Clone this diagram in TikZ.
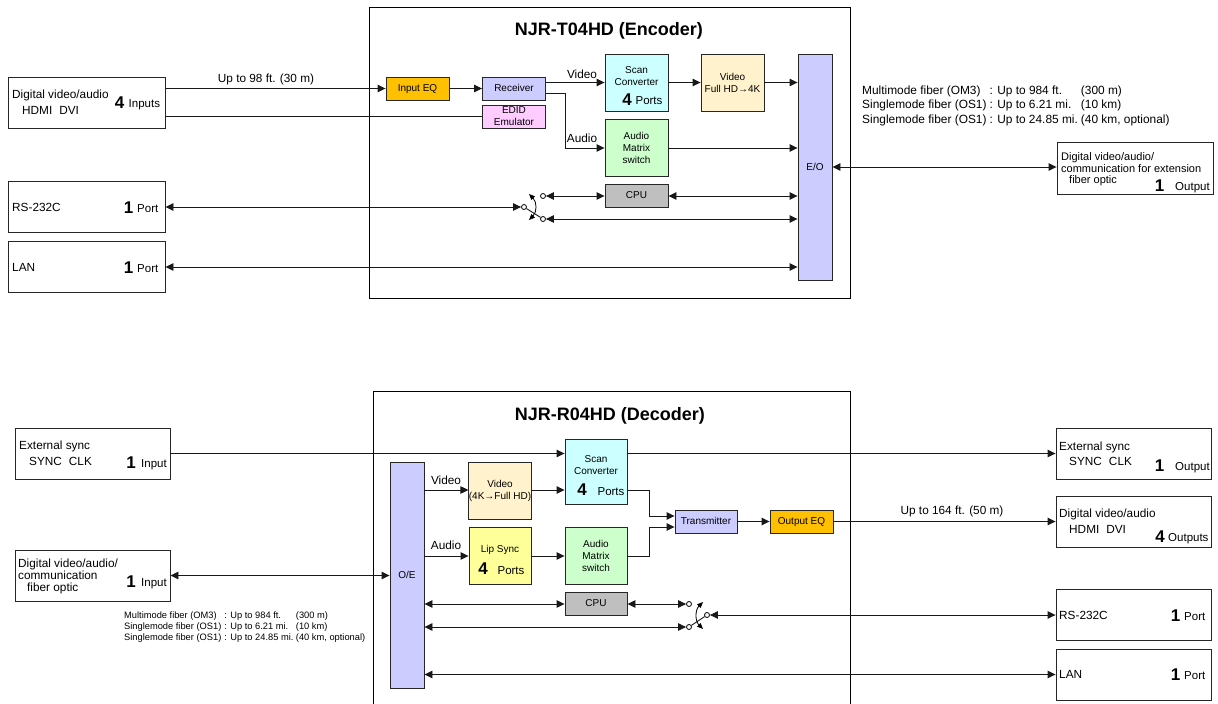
\documentclass[tikz,border=0pt]{standalone}
\usepackage{fontspec}
\setmainfont{Liberation Sans}
\usetikzlibrary{arrows.meta}
\definecolor{eq-orange}{HTML}{FFC000}
\definecolor{io-blue}{HTML}{CCCCFF}
\definecolor{edid-pink}{HTML}{FFCCFF}
\definecolor{scan-cyan}{HTML}{CCFFFF}
\definecolor{video-cream}{HTML}{FFF2CC}
\definecolor{audio-green}{HTML}{CCFFCC}
\definecolor{cpu-gray}{HTML}{BFBFBF}
\definecolor{lip-yellow}{HTML}{FFFF99}
\tikzset{
    unit-box/.style = {draw=black!85, line width=0.9pt, rectangle, inner sep=0pt, align=center, minimum width=63pt, font=\fontsize{10}{12}\selectfont},
    one-line/.style = {text height=7.2pt, text depth=1pt},
    port-box/.style = {draw=black!85, line width=0.9pt, rectangle, inner sep=0pt, minimum width=157pt, minimum height=51pt},
    main-box/.style = {draw=black, line width=0.9pt},
    title-text/.style = {inner sep=0pt, font=\fontsize{18}{20}\bfseries\selectfont},
    port-text/.style = {inner sep=0pt, anchor=mid west, yshift=-1.5pt, font=\fontsize{11.8}{14}\selectfont},
    count-text/.style = {inner sep=0pt, anchor=mid west, yshift=-1.5pt, font=\fontsize{11.5}{14}\selectfont},
    big-digit/.style = {inner sep=0pt, font=\fontsize{17}{18}\bfseries\selectfont},
    contact/.style = {circle, draw=black, fill=white, line width=0.8pt, inner sep=0pt, minimum size=5pt},
    link/.style = {draw=black!90, line width=0.9pt, >={Triangle[length=8pt,width=7.5pt]}},
    throw/.style = {draw=black, line width=0.8pt, >={Triangle[length=6pt,width=5pt]}},
}

\begin{document}
\begin{tikzpicture}[x=1pt, y=-1pt]
\useasboundingbox (0,0) rectangle (1218,704);

% encoder
\node [main-box, minimum width=481pt, minimum height=291pt, inner sep=0pt] (encoder) at (609.5,152.5) {};
\node [title-text] (encoder-title) at (609,31) {NJR-T04HD (Encoder)};
\node [unit-box, one-line, fill=eq-orange, minimum height=23pt] (in-eq) at (417.5,88.5) {Input EQ};
\node [unit-box, one-line, fill=io-blue, minimum height=23pt] (receiver) at (514,88.5) {Receiver};
\node [unit-box, fill=edid-pink, minimum height=23pt] (edid) at (514,116.5) {EDID\\Emulator};
\node [unit-box, fill=scan-cyan, minimum height=57pt] (t-scan) at (636.5,82.5) {};
\node [unit-box, draw=none, fill=none] (t-scan-text) at (636.5,76.5) {Scan\\Converter};
\node [big-digit] (t-scan-digit) at (627,100) {4};
\node [count-text, anchor=mid] (t-scan-ports) at (649,100) {Ports};
\node [unit-box, fill=video-cream, minimum height=57pt] (t-video) at (732.5,82.5) {Video\\Full HD→4K};
\node [unit-box, fill=audio-green, minimum height=57pt] (t-audio) at (636.5,147.5) {Audio\\Matrix\\switch};
\node [unit-box, one-line, fill=cpu-gray, minimum height=23pt] (t-cpu) at (636.5,195.5) {CPU};
\node [unit-box, one-line, fill=io-blue, minimum width=34pt, minimum height=226pt] (eo) at (815,167) {E/O};

\node [port-box] (t-digital) at (86.5,102.5) {};
\node [port-text] (t-digital-a) at (12,94) {Digital video/audio};
\node [port-text] (t-digital-b) at (22,110) {HDMI\hspace{7pt}DVI};
\node [big-digit] (t-digital-n) at (119.5,102.5) {4};
\node [count-text] (t-digital-c) at (128.5,103) {Inputs};
\node [port-box] (t-rs) at (86.5,206.5) {};
\node [port-text] (t-rs-a) at (12,207) {RS-232C};
\node [big-digit] (t-rs-n) at (128.5,207.5) {1};
\node [count-text] (t-rs-c) at (137,208) {Port};
\node [port-box] (t-lan) at (86.5,266.5) {};
\node [port-text] (t-lan-a) at (12,267) {LAN};
\node [big-digit] (t-lan-n) at (128.5,267.5) {1};
\node [count-text] (t-lan-c) at (137,268) {Port};
\node [port-box, minimum width=156pt, minimum height=52pt] (t-fiber) at (1135,168) {};
\node [port-text, font=\fontsize{11}{12}\selectfont] (t-fiber-a) at (1061,156) {Digital video/audio/};
\node [port-text, font=\fontsize{11}{12}\selectfont] (t-fiber-b) at (1061,168) {communication for extension};
\node [port-text, font=\fontsize{11}{12}\selectfont] (t-fiber-c) at (1069,179) {fiber optic};
\node [big-digit] (t-fiber-n) at (1159.5,186) {1};
\node [count-text] (t-fiber-d) at (1175,186) {Output};

\node [inner sep=0pt, anchor=west, font=\fontsize{11.9}{14.5}\selectfont] (t-reach) at (862,106) {\begin{tabular}{@{}l@{\hspace{3pt}}l@{\hspace{3pt}}l@{}}
    Multimode fiber (OM3) & : Up to 984 ft. & (300 m)\\
    Singlemode fiber (OS1) & : Up to 6.21 mi. & (10 km)\\
    Singlemode fiber (OS1) & : Up to 24.85 mi. & (40 km, optional)
\end{tabular}};
\node [port-text, anchor=mid] (t-cable) at (266,78) {Up to 98 ft. (30 m)};
\node [port-text, anchor=mid] (t-video-label) at (582,74) {Video};
\node [port-text, anchor=mid] (t-audio-label) at (582,138) {Audio};

\node [contact] (t-sw-top) at (543,196) {};
\node [contact] (t-sw-bot) at (543,219) {};
\node [contact] (t-sw-com) at (524,207) {};
\coordinate (t-arc-up) at (529,194);
\coordinate (t-arc-dn) at (529,220);
\coordinate (t-video-row) at (0,82.5);
\coordinate (t-audio-row) at (0,148);
\coordinate (t-tap-row) at (0,93);
\coordinate (t-fork) at (565,0);

\draw [link, ->] (t-digital.east |- in-eq) -- (in-eq);
\draw [link, ->] (in-eq) -- (receiver);
\draw [link] (t-digital.east |- edid) -- (edid);
\draw [link, ->] (receiver.east |- t-video-row) -- (t-scan.west |- t-video-row);
\draw [link, ->] (receiver.east |- t-tap-row) -- (t-fork |- t-tap-row) -- (t-fork |- t-audio-row) -- (t-audio.west |- t-audio-row);
\draw [link, ->] (t-scan.east |- t-video-row) -- (t-video.west |- t-video-row);
\draw [link, ->] (t-video.east |- t-video-row) -- (eo.west |- t-video-row);
\draw [link, ->] (t-audio.east |- t-audio-row) -- (eo.west |- t-audio-row);
\draw [link, <->] (t-sw-top) -- (t-cpu.west |- t-sw-top);
\draw [link, <->] (t-cpu.east |- t-sw-top) -- (eo.west |- t-sw-top);
\draw [link, <->] (t-sw-bot) -- (eo.west |- t-sw-bot);
\draw [link, <->] (t-rs.east |- t-sw-com) -- (t-sw-com);
\draw [link] (t-sw-com) -- (t-sw-bot);
\draw [throw, <->] (t-arc-up) .. controls (537,202) and (537,212) .. (t-arc-dn);
\draw [link, <->] (t-lan.east |- 0,267) -- (eo.west |- 0,267);
\draw [link, <->] (eo.east) -- (t-fiber.west |- eo.east);

% decoder
\coordinate (dec-sw) at (373,704);
\coordinate (dec-nw) at (373,391);
\coordinate (dec-ne) at (850,391);
\coordinate (dec-se) at (850,704);
\draw [main-box] (dec-sw) -- (dec-nw) -- (dec-ne) -- (dec-se);
\node [title-text] (decoder-title) at (610,416) {NJR-R04HD (Decoder)};
\node [unit-box, one-line, fill=io-blue, minimum width=34pt, minimum height=226pt] (oe) at (407,575) {O/E};
\node [unit-box, fill=video-cream, minimum width=62pt, minimum height=57pt] (r-video) at (500,490.5) {Video\\(4K→Full HD)};
\node [unit-box, fill=lip-yellow, minimum width=62pt, minimum height=57pt] (r-lip) at (500,555.5) {};
\node [unit-box, draw=none, fill=none] (r-lip-text) at (500,549.5) {Lip Sync};
\node [big-digit] (r-lip-digit) at (483,569) {4};
\node [count-text, anchor=mid] (r-lip-ports) at (511,570) {Ports};
\node [unit-box, fill=scan-cyan, minimum width=62pt, minimum height=65pt] (r-scan) at (596,471.5) {};
\node [unit-box, draw=none, fill=none] (r-scan-text) at (596,465) {Scan\\Converter};
\node [big-digit] (r-scan-digit) at (582,490) {4};
\node [count-text, anchor=mid] (r-scan-ports) at (611,491) {Ports};
\node [unit-box, fill=audio-green, minimum width=62pt, minimum height=57pt] (r-audio) at (596,555.5) {Audio\\Matrix\\switch};
\node [unit-box, one-line, fill=cpu-gray, minimum width=62pt, minimum height=23pt] (r-cpu) at (596,603.5) {CPU};
\node [unit-box, one-line, fill=io-blue, minimum width=62pt, minimum height=23pt] (transmitter) at (706,521.5) {Transmitter};
\node [unit-box, one-line, fill=eq-orange, minimum width=63pt, minimum height=23pt] (out-eq) at (801.5,521.5) {Output EQ};

\node [port-box, minimum width=155pt] (r-sync) at (92.5,453.5) {};
\node [port-text] (r-sync-a) at (19,445) {External sync};
\node [port-text] (r-sync-b) at (29,461) {SYNC\hspace{7pt}CLK};
\node [big-digit] (r-sync-n) at (131,463) {1};
\node [count-text] (r-sync-c) at (141,463.5) {Input};
\node [port-box, minimum width=155pt] (r-fiber) at (92.5,575.5) {};
\node [port-text] (r-fiber-a) at (18,563) {Digital video/audio/};
\node [port-text] (r-fiber-b) at (18,575) {communication};
\node [port-text] (r-fiber-c) at (27,587) {fiber optic};
\node [big-digit] (r-fiber-n) at (131,582) {1};
\node [count-text] (r-fiber-d) at (141,582.5) {Input};
\node [inner sep=0pt, anchor=west, font=\fontsize{9.3}{11}\selectfont] (r-reach) at (124,627) {\begin{tabular}{@{}l@{\hspace{3pt}}l@{\hspace{2.5pt}}l@{}}
    Multimode fiber (OM3) & : Up to 984 ft. & (300 m)\\
    Singlemode fiber (OS1) & : Up to 6.21 mi. & (10 km)\\
    Singlemode fiber (OS1) & : Up to 24.85 mi. & (40 km, optional)
\end{tabular}};

\node [port-box, minimum width=155pt] (r-sync-out) at (1133.5,454) {};
\node [port-text] (r-sync-out-a) at (1059,446) {External sync};
\node [port-text] (r-sync-out-b) at (1069,461) {SYNC\hspace{7pt}CLK};
\node [big-digit] (r-sync-out-n) at (1159.5,466) {1};
\node [count-text] (r-sync-out-c) at (1175,466.5) {Output};
\node [port-box, minimum width=155pt] (r-digital) at (1133.5,521.5) {};
\node [port-text] (r-digital-a) at (1059,513) {Digital video/audio};
\node [port-text] (r-digital-b) at (1069,529) {HDMI\hspace{7pt}DVI};
\node [big-digit] (r-digital-n) at (1160,537) {4};
\node [count-text] (r-digital-c) at (1168,537.5) {Outputs};
\node [port-box, minimum width=155pt] (r-rs) at (1133.5,615) {};
\node [port-text] (r-rs-a) at (1059,615) {RS-232C};
\node [big-digit] (r-rs-n) at (1175.5,616) {1};
\node [count-text] (r-rs-c) at (1184,616.5) {Port};
\node [port-box, minimum width=155pt] (r-lan) at (1133.5,674.5) {};
\node [port-text] (r-lan-a) at (1059,674) {LAN};
\node [big-digit] (r-lan-n) at (1175.5,675) {1};
\node [count-text] (r-lan-c) at (1184,675.5) {Port};

\node [port-text, anchor=mid] (r-cable) at (952,510) {Up to 164 ft. (50 m)};
\node [port-text, anchor=mid] (r-video-label) at (446,480) {Video};
\node [port-text, anchor=mid] (r-audio-label) at (446,545) {Audio};

\node [contact] (r-sw-top) at (689,604) {};
\node [contact] (r-sw-bot) at (689,627) {};
\node [contact] (r-sw-com) at (707,615) {};
\coordinate (r-arc-up) at (703,602);
\coordinate (r-arc-dn) at (703,629);
\coordinate (r-sync-row) at (0,453.5);
\coordinate (r-video-row) at (0,490);
\coordinate (r-audio-row) at (0,556);
\coordinate (r-tx-up) at (0,516);
\coordinate (r-tx-dn) at (0,527);
\coordinate (r-fork) at (649,0);

\draw [link, ->] (r-sync.east |- r-sync-row) -- (r-scan.west |- r-sync-row);
\draw [link, ->] (r-scan.east |- r-sync-row) -- (r-sync-out.west |- r-sync-row);
\draw [link, ->] (oe.east |- r-video-row) -- (r-video.west |- r-video-row);
\draw [link, ->] (r-video.east |- r-video-row) -- (r-scan.west |- r-video-row);
\draw [link, ->] (oe.east |- r-audio-row) -- (r-lip.west |- r-audio-row);
\draw [link, ->] (r-lip.east |- r-audio-row) -- (r-audio.west |- r-audio-row);
\draw [link, ->] (r-scan.east |- r-video-row) -- (r-fork |- r-video-row) -- (r-fork |- r-tx-up) -- (transmitter.west |- r-tx-up);
\draw [link, ->] (r-audio.east |- r-audio-row) -- (r-fork |- r-audio-row) -- (r-fork |- r-tx-dn) -- (transmitter.west |- r-tx-dn);
\draw [link, ->] (transmitter) -- (out-eq);
\draw [link, ->] (out-eq) -- (r-digital.west |- out-eq);
\draw [link, <->] (r-fiber.east) -- (oe.west |- r-fiber.east);
\draw [link, <->] (oe.east |- r-sw-top) -- (r-cpu.west |- r-sw-top);
\draw [link, <->] (r-cpu.east |- r-sw-top) -- (r-sw-top);
\draw [link, <->] (oe.east |- r-sw-bot) -- (r-sw-bot);
\draw [link] (r-sw-com) -- (r-sw-bot);
\draw [link, <->] (r-sw-com) -- (r-rs.west |- r-sw-com);
\draw [throw, <->] (r-arc-up) .. controls (695,610) and (695,621) .. (r-arc-dn);
\draw [link, <->] (oe.east |- r-lan) -- (r-lan);
\end{tikzpicture}
\end{document}
